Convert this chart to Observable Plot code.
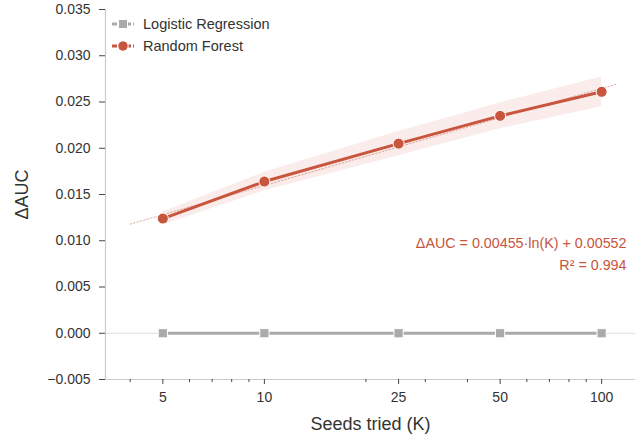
<!DOCTYPE html>
<html>
<head>
<meta charset="utf-8">
<script src="https://cdn.jsdelivr.net/npm/d3@7"></script>
<script src="https://cdn.jsdelivr.net/npm/@observablehq/plot@0.6"></script>
<style>
  html, body { margin: 0; padding: 0; background: #fff; }
  #wrap { position: relative; width: 635px; height: 438px; font-family: "Liberation Sans", Arial, sans-serif; }
  #legend { position: absolute; left: 112px; top: 13px; font-size: 14.5px; color: #333; }
  #legend .row { display: flex; align-items: center; height: 22px; }
  #legend svg { margin-right: 9px; }
  svg [aria-label="y-axis label"], svg [aria-label="x-axis label"] { font-size: 18px; }
</style>
</head>
<body>
<div id="wrap"><div id="legend"></div></div>
<script>
// ---- data ----
const seeds = [5, 10, 25, 50, 100];
const lrDelta = [0, 0, 0, 0, 0];
const rfDelta = [0.0124, 0.0164, 0.0205, 0.0235, 0.0261];
const rfLow   = [0.0117, 0.0154, 0.0192, 0.0221, 0.0245];
const rfHigh  = [0.0131, 0.0174, 0.0218, 0.0249, 0.0277];
const fitK = [4, 110];
const fitDelta = [0.0118, 0.0269];
const xMajorTicks = [5, 10, 25, 50, 100];
const xMinorTicks = [4, 6, 7, 8, 9, 20, 30, 40, 60, 70, 80, 90];
const yTicks = [-0.005, 0, 0.005, 0.010, 0.015, 0.020, 0.025, 0.030, 0.035];
const seriesNames = ["Logistic Regression", "Random Forest"];
const fitText = ["ΔAUC = 0.00455·ln(K) + 0.00552", "R² = 0.994"];

const RF = "#c8553d";
const LR = "#aaaaaa";

const lr = seeds.map((k, i) => ({k, v: lrDelta[i]}));
const rf = seeds.map((k, i) => ({k, v: rfDelta[i], lo: rfLow[i], hi: rfHigh[i]}));
const fit = fitK.map((k, i) => ({k, v: fitDelta[i]}));
const xDomain = [3.38, 126];
const yDomain = [-0.005, 0.035];

const chart = Plot.plot({
  width: 635,
  height: 438,
  marginLeft: 105,
  marginRight: 0,
  marginTop: 9,
  marginBottom: 59,
  style: {fontFamily: "'Liberation Sans', Arial, sans-serif", fontSize: "14px", color: "#333", background: "#fff"},
  x: {type: "log", domain: xDomain},
  y: {domain: yDomain},
  marks: [
    Plot.ruleY([0], {stroke: "#dddddd", strokeWidth: 1}),
    Plot.areaY(rf, {x: "k", y1: "lo", y2: "hi", fill: RF, fillOpacity: 0.11}),
    Plot.line(fit, {x: "k", y: "v", stroke: RF, strokeOpacity: 0.5, strokeWidth: 1, strokeDasharray: "1.5,2"}),
    Plot.line(lr, {x: "k", y: "v", stroke: LR, strokeWidth: 3}),
    Plot.dot(lr, {x: "k", y: "v", symbol: "square", r: 5.2, fill: LR, stroke: "white", strokeWidth: 1}),
    Plot.line(rf, {x: "k", y: "v", stroke: RF, strokeWidth: 3}),
    Plot.dot(rf, {x: "k", y: "v", r: 5.5, fill: RF, stroke: "white", strokeWidth: 1}),
    Plot.ruleX([xDomain[0]], {stroke: "#cccccc", strokeWidth: 1.2}),
    Plot.ruleY([yDomain[0]], {stroke: "#cccccc", strokeWidth: 1.2}),
    Plot.axisY({ticks: yTicks, tickFormat: d3.format(".3f"), tickSize: 6, tickPadding: 9, stroke: "#444",
      label: "ΔAUC", labelAnchor: "center", labelArrow: "none", labelOffset: 90}),
    Plot.axisX({ticks: xMajorTicks, tickFormat: d => String(d), tickSize: 5, tickPadding: 8, stroke: "#444",
      label: "Seeds tried (K)", labelAnchor: "center", labelArrow: "none", labelOffset: 50}),
    Plot.axisX({ticks: xMinorTicks, tickFormat: null, text: null, tickSize: 3, stroke: "#444", label: null}),
    Plot.text([fitText[0]], {frameAnchor: "top-right", dx: -9, dy: 234, text: d => d, fill: RF, textAnchor: "end", lineAnchor: "middle", fontSize: 14.3}),
    Plot.text([fitText[1]], {frameAnchor: "top-right", dx: -9, dy: 256, text: d => d, fill: RF, textAnchor: "end", lineAnchor: "middle", fontSize: 14.3})
  ]
});
document.getElementById("wrap").prepend(chart);

// legend
const legend = document.getElementById("legend");
const legendDefs = [
  {name: seriesNames[0], color: LR, shape: "square"},
  {name: seriesNames[1], color: RF, shape: "circle"}
];
for (const d of legendDefs) {
  const row = document.createElement("div");
  row.className = "row";
  const marker = d.shape === "square"
    ? `<rect x="6.5" y="6.5" width="9" height="9" fill="${d.color}" stroke="white" stroke-width="1"/>`
    : `<circle cx="11" cy="11" r="5.2" fill="${d.color}" stroke="white" stroke-width="1"/>`;
  row.innerHTML = `<svg width="22" height="22"><line x1="0" x2="22" y1="11" y2="11" stroke="${d.color}" stroke-width="3" stroke-dasharray="5,2"/>${marker}</svg><span>${d.name}</span>`;
  legend.appendChild(row);
}
</script>
</body>
</html>
